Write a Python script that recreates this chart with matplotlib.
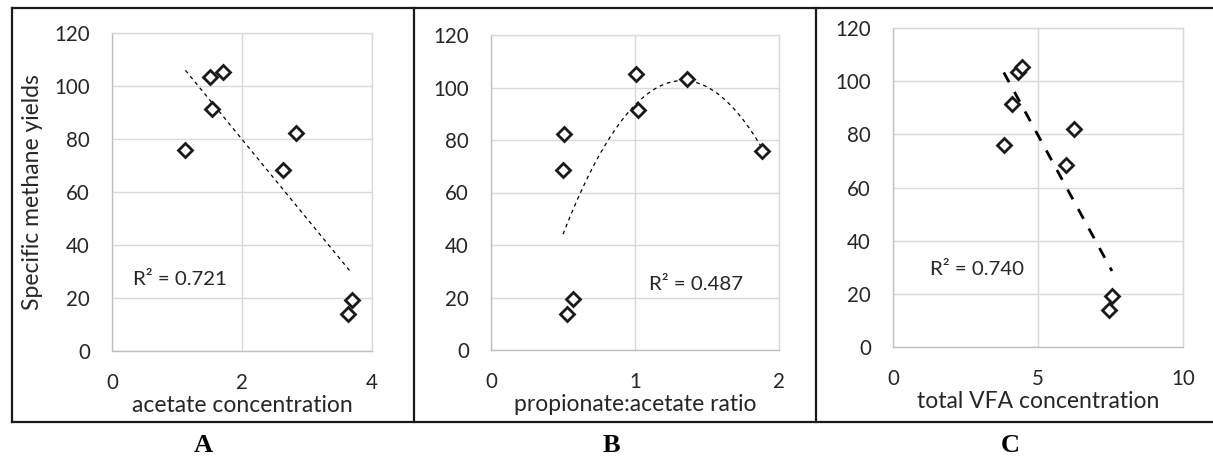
import numpy as np
import matplotlib
matplotlib.use("Agg")
import matplotlib.pyplot as plt
from matplotlib.lines import Line2D

# ========== DATA ==========
yields = [75.8, 103.3, 105.3, 91.4, 82.1, 68.4, 19.3, 13.8]
acetate = [1.13, 1.51, 1.70, 1.54, 2.83, 2.63, 3.69, 3.63]
prop_ratio = [1.88, 1.36, 1.01, 1.02, 0.51, 0.50, 0.57, 0.53]
total_vfa = [3.82, 4.32, 4.45, 4.10, 6.25, 5.95, 7.55, 7.45]

x_labels = ["acetate concentration", "propionate:acetate ratio", "total VFA concentration"]
r2_texts = ["R² = 0.721", "R² = 0.487", "R² = 0.740"]
panel_letters = ["A", "B", "C"]
x_ticks = [[0, 2, 4], [0, 1, 2], [0, 5, 10]]
y_ticks = [0, 20, 40, 60, 80, 100, 120]

# ========== LAYOUT ==========
W, H = 1213, 472
FONT = ["Lato", "DejaVu Sans"]
plt.rcParams['font.family'] = FONT

fig = plt.figure(figsize=(W / 100, H / 100), dpi=100)

# axes boxes in pixels: left, top, right, bottom
boxes = [(112, 33, 372, 351), (491, 35, 779, 350), (893, 28, 1183, 347)]
r2_pos = [(0.32, 27), (1.10, 25), (1.29, 29)]
fit_order = [1, 2, 1]
fit_style = [dict(lw=0.9, dashes=(3, 3)), dict(lw=0.9, dashes=(3, 3)), dict(lw=2.0, dashes=(4, 4))]
letter_x = [203, 611, 1010]

xdata = [acetate, prop_ratio, total_vfa]

for i in range(3):
    l, t, r, b = boxes[i]
    ax = fig.add_axes([l / W, 1 - b / H, (r - l) / W, (b - t) / H])
    x = np.array(xdata[i])
    y = np.array(yields)

    # trend line (fitted like the spreadsheet trendline)
    coef = np.polyfit(x, y, fit_order[i])
    xs = np.linspace(x.min(), x.max(), 200)
    line, = ax.plot(xs, np.polyval(coef, xs), color="black", lw=fit_style[i]["lw"], zorder=2)
    line.set_dashes(fit_style[i]["dashes"])

    ax.plot(x, y, linestyle="none", marker="D", markersize=7.5, markerfacecolor="white",
            markeredgecolor="#1a1a1a", markeredgewidth=2.0, zorder=3)

    ax.set_xlim(x_ticks[i][0], x_ticks[i][-1])
    ax.set_ylim(0, 120)
    ax.set_xticks(x_ticks[i])
    ax.set_yticks(y_ticks)
    ax.grid(True, color="#d9d9d9", lw=1.0)
    ax.set_axisbelow(True)
    for s in ax.spines.values():
        s.set_color("#d9d9d9")
        s.set_linewidth(1.0)
    ax.spines["left"].set_color("#bfbfbf")
    ax.spines["bottom"].set_color("#bfbfbf")
    ax.tick_params(length=0, labelsize=14.8, labelcolor="#262626")
    ax.tick_params(axis="x", pad=16)
    ax.tick_params(axis="y", pad=16)
    ax.set_xlabel(x_labels[i], fontsize=16.5, color="#262626", labelpad=1)
    if i == 0:
        ax.set_ylabel("Specific methane yields", fontsize=16.5, color="#262626", labelpad=8)

    ax.text(r2_pos[i][0], r2_pos[i][1], r2_texts[i], fontsize=14.7, color="#262626",
            va="center", ha="left")

    fig.text(letter_x[i] / W, 1 - 446 / H, panel_letters[i], fontsize=19, fontweight="bold",
             family="Liberation Serif", ha="center", va="center")

# panel frame
def fline(x0, y0, x1, y1):
    fig.add_artist(Line2D([x0 / W, x1 / W], [1 - y0 / H, 1 - y1 / H], color="#1a1a1a", lw=1.6))

fline(12, 8, W, 8)
fline(12, 422, W, 422)
fline(12, 8, 12, 422)
fline(414, 8, 414, 422)
fline(816, 8, 816, 422)

fig.savefig("out.png", dpi=100)
